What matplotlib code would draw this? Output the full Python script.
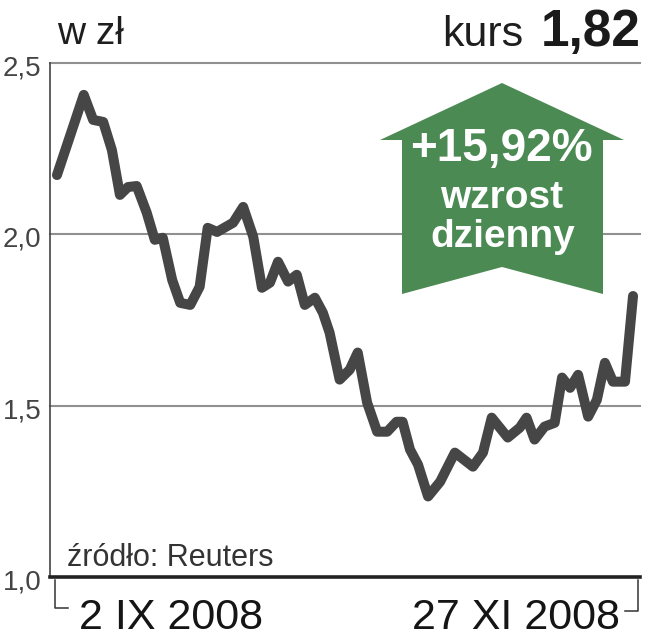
import matplotlib
matplotlib.use("Agg")
import matplotlib.pyplot as plt
from matplotlib.patches import Polygon
from matplotlib.lines import Line2D

plt.rcParams['font.family'] = ['Liberation Sans', 'DejaVu Sans']

# kurs akcji, dni od 2 IX 2008
days = [0, 4.0, 5.4, 6.9, 8.2, 9.4, 10.6, 11.9, 13.4, 14.6, 15.8, 17.2, 18.4, 19.9, 21.3,
        22.5, 23.9, 26.3, 27.8, 29.3, 30.6, 31.8, 33.0, 34.5, 35.8, 37.0, 38.5, 39.7, 40.7,
        42.2, 43.7, 44.9, 46.3, 47.8, 49.3, 50.7, 51.6, 52.7, 53.9, 55.4, 57.2, 59.4, 62.1,
        63.6, 64.9, 67.3, 69.1, 70.1, 71.3, 72.8, 74.3, 75.4, 76.6, 77.8, 79.3, 80.6, 81.8,
        83.0, 84.8, 86]
price = [2.173, 2.407, 2.334, 2.328, 2.246, 2.115, 2.138, 2.141, 2.063, 1.984, 1.990, 1.867,
         1.800, 1.794, 1.847, 2.019, 2.007, 2.034, 2.080, 1.993, 1.844, 1.859, 1.920, 1.862,
         1.882, 1.794, 1.815, 1.771, 1.713, 1.576, 1.605, 1.655, 1.509, 1.424, 1.424, 1.453,
         1.453, 1.372, 1.328, 1.235, 1.278, 1.363, 1.322, 1.363, 1.465, 1.407, 1.436, 1.465,
         1.401, 1.439, 1.450, 1.582, 1.552, 1.590, 1.468, 1.517, 1.625, 1.570, 1.570, 1.82]
yticks = [1.0, 1.5, 2.0, 2.5]
ylabels = ['1,0', '1,5', '2,0', '2,5']
start_label = '2 IX 2008'
end_label = '27 XI 2008'
last_price = '1,82'
change = '+15,92%'

W, H = 649, 640
fig = plt.figure(figsize=(W / 100, H / 100), dpi=100)


def px(x, y):
    return x / W, 1 - y / H


ax = fig.add_axes([50 / W, 1 - 577 / H, 590 / W, 514 / H])
ax.plot(days, price, color='#464646', lw=7.2, solid_joinstyle='round',
        solid_capstyle='round', zorder=4)
ax.set_xlim(-1.04, 87.04)
ax.set_ylim(1.0, 2.5)
ax.set_xticks([])
ax.set_yticks([1.5, 2.0, 2.5])
ax.set_yticklabels([])
ax.tick_params(left=False)
ax.grid(axis='y', color='#909090', lw=1.5)
for gl in ax.get_ygridlines():
    gl.set_clip_on(False)
for s in ['top', 'right']:
    ax.spines[s].set_visible(False)
ax.spines['left'].set_color('#444444')
ax.spines['left'].set_linewidth(1.2)
ax.spines['bottom'].set_color('#222222')
ax.spines['bottom'].set_linewidth(2.6)
ax.spines['bottom'].set_zorder(5)

for v, lab in zip(yticks, ylabels):
    ax.annotate(lab, xy=(0, v), xycoords=('axes fraction', 'data'),
                xytext=(-6, -9), textcoords='offset points',
                ha='right', va='baseline', fontsize=20, color='#444444')

# zielona strzalka
arrow = [(502, 83), (624, 140), (603, 140), (603, 294), (502, 267),
         (402, 294), (402, 140), (380, 140)]
fig.patches.append(Polygon([px(*p) for p in arrow], closed=True, facecolor='#4b8a53',
                           edgecolor='none', transform=fig.transFigure, zorder=6))
fig.text(*px(501, 161), change, ha='center', va='baseline', fontsize=33,
         fontweight='bold', color='white', zorder=7)
fig.text(*px(502, 208), 'wzrost', ha='center', va='baseline', fontsize=28,
         fontweight='bold', color='white', zorder=7)
fig.text(*px(503, 247), 'dzienny', ha='center', va='baseline', fontsize=28,
         fontweight='bold', color='white', zorder=7)

# naglowki
fig.text(*px(57, 44), 'w zł', ha='left', va='baseline', fontsize=28, color='#1e1e1e')
fig.text(*px(523, 46), 'kurs', ha='right', va='baseline', fontsize=31, color='#1e1e1e')
fig.text(*px(641, 46), last_price, ha='right', va='baseline', fontsize=37,
         fontweight='bold', color='#1a1a1a')

fig.text(*px(67, 566), 'źródło: Reuters', ha='left', va='baseline', fontsize=22,
         color='#333333')

# daty pod osia
fig.text(*px(79, 629), start_label, ha='left', va='baseline', fontsize=31, color='#151515')
fig.text(*px(620, 629), end_label, ha='right', va='baseline', fontsize=31, color='#151515')
for pts in ([(55, 580), (55, 608), (68, 608)], [(625, 611), (638, 611), (638, 580)]):
    xs, ys = zip(*[px(*p) for p in pts])
    fig.add_artist(Line2D(xs, ys, color='#333333', lw=1.1, transform=fig.transFigure))

fig.savefig('out.png', dpi=100)
